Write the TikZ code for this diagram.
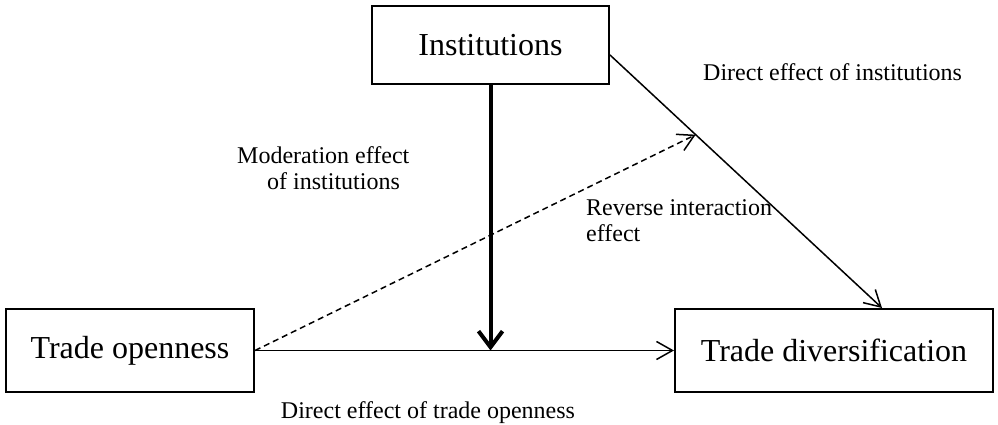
\documentclass[tikz,border=0pt]{standalone}
\usepackage{fontspec}
\setmainfont{Liberation Serif}
\usetikzlibrary{arrows.meta,calc}

\begin{document}
\begin{tikzpicture}[x=1pt, y=-1pt,
	box/.style={draw, line width=2pt, minimum height=83pt, inner sep=0pt, font=\fontsize{32}{38}\selectfont},
	lbl/.style={inner sep=0pt, font=\fontsize{24}{26}\selectfont},
	arr/.style={line width=1.5pt, -{Straight Barb[length=16pt,width=18pt]}}]
	\useasboundingbox (0,0) rectangle (998,425);

%boxes
	\node[box, minimum width=237pt, minimum height=78pt] (inst) at (490.5, 45) {Institutions};
	\node[box, minimum width=248pt] (open) at (130, 350.5) {Trade openness};
	\node[box, minimum width=318pt] (div) at (834, 350.5) {Trade diversification};

%lines
	\draw[arr] (open.east) -- (div.west);
	\coordinate (mid) at (inst.south |- open.east);
	\draw[line width=4pt, -{Straight Barb[length=16pt,width=24pt]}] (inst.south) -- (mid);

	\coordinate (d1) at ([yshift=-10pt]inst.east);
	\coordinate (d2) at ([xshift=48pt]div.north);
	\draw[arr] (d1) -- (d2);
	\coordinate (meet) at ($(d1)!0.315!(d2)$);
	\draw[arr, dash pattern=on 6pt off 4pt] (open.east) -- (meet);

%labels
	\node[lbl, anchor=base west] (ldi) at (703, 81) {Direct effect of institutions};
	\node[lbl, anchor=north west, align=left] (lmod) at (237, 146) {Moderation effect\\\hspace*{30pt}of institutions};
	\node[lbl, anchor=north west, align=left] (lrev) at (586, 199) {Reverse interaction\\effect};
	\node[lbl, anchor=base] (ldt) at (428, 418) {Direct effect of trade openness};

\end{tikzpicture}
\end{document}
